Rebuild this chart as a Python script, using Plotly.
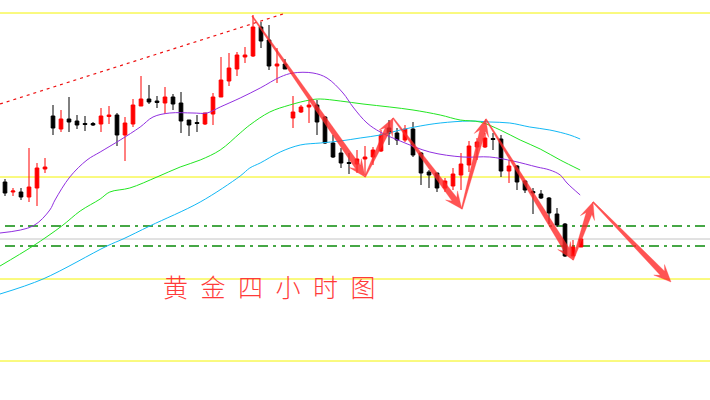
import math
import plotly.graph_objects as go

# ---- candle data (index, OHLC) ----
opens  = [1818,1808,1808,1803,1812,1831,1884,1871,1881,1879,1876.5,1876.5,1876,1883.5,1885,1865,1876,1894,1901,1899,
          1897,1903,1897,1880,1877.5,1876,1886,1903,1919,1931,1943,1944,1973,1960,1934,1936,1882,1888,1893,1895,
          1883,1857,1847,1837.5,1836,1841,1843,1849,1872,1867,1860,1871,1847,1828,1827,1812,1814,1825,1835,1853,
          1853,1861.5,1861,1829,1834,1819,1808.5,1806,1802,1786,1776,1744,1753]
highs  = [1821,1812,1812,1852,1837,1842,1895,1890,1903,1885,1884,1878,1892,1894,1887,1883,1901,1924,1915,1904,
          1913,1906,1908,1880,1885,1887,1907,1943,1947,1948,1953,1985,1978,1975,1952,1941,1904,1895,1900,1900,
          1884,1865,1852,1847,1850,1854,1853,1870,1880,1872,1875,1878,1848,1830,1827,1822,1832,1847,1859,1862,
          1867,1867,1865,1840,1835,1820,1812,1810,1803,1792,1777,1760,1761]
lows   = [1804,1804,1800,1798,1794,1827,1865,1868,1868,1871,1869,1874,1868,1876,1854,1839,1873,1894,1896,1892,
          1886,1890,1867,1864,1868,1875,1875,1903,1914,1924,1937,1943,1952,1930,1917,1931,1872,1887,1877,1865,
          1856,1842,1832,1826,1827,1825,1835,1848,1855,1855,1858,1843,1815,1812,1808,1808,1810,1810,1828,1840,
          1852,1850,1823,1817,1810,1807,1786,1801,1776,1773,1743,1742,1753]
closes = [1807,1809,1803,1813,1832,1833,1872,1881,1878,1875,1875.5,1875,1884,1885,1865,1877,1895,1901,1898,1897.5,
          1903,1896,1879,1875,1876.5,1887,1903,1920,1932,1945,1945,1973,1959,1934,1936,1931,1888,1893,1895,1878,
          1857,1843,1837,1836.5,1841,1843,1850,1865,1867,1860,1871,1845,1827,1825,1812,1819,1826,1836,1854,1858,
          1862,1860.5,1829,1834,1818,1810,1807,1802,1787,1775,1744,1753,1761]
bar_index = list(range(len(opens)))

# ---- moving averages (index, price) ----
ma_purple_x = [-0.625,3.5,5.6,6.25,8.1,10.25,11.9,14.4,16.9,18.5,20.6,23.5,25.25,26.9,29.4,31.9,34.4,36,38.5,40.25,
               42.25,43.5,45.25,46.9,49.4,53.1,57.25,60.6,63.5,66.5,68.1,69.4,70.25,71.9]
ma_purple_y = [1767,1774,1790,1800,1823,1840,1848,1860,1873,1883,1887,1887,1887,1893,1902,1912,1923,1927,1927,1922,
               1907,1893,1877,1868,1859,1848,1843,1843,1839,1833,1830,1825,1817,1805]
ma_green_x = [-0.625,3.5,7.1,9.4,11.9,13.1,15.6,19,21.9,24.4,26.9,29.4,30.6,33.1,35.6,38.1,39.4,41.9,44.75,48.1,
              51,54.4,56.9,59.4,61.9,64.4,66.9,69.4,71.9]
ma_green_y = [1734,1754,1774,1789,1801,1808,1812,1823,1833,1840,1850,1867,1875,1888,1895,1900,1901,1899,1896,1893,
              1890,1885,1880,1878,1870,1860,1851,1840,1830]
ma_cyan_x = [-0.625,4.75,12.75,14.75,18.1,24.4,29.4,30.6,31.9,34.4,36.9,39.4,41.9,44.4,46.9,49.4,51.9,54.4,58.1,
             60.6,63.1,65.6,68.1,70.6,71.9]
ma_cyan_y = [1706,1721,1754,1761,1774,1798,1824,1832,1837,1848,1855,1857,1859,1862,1865,1870,1874,1877,1879,
             1878,1877,1873,1870,1865,1861]

# ---- reference lines ----
yellow_levels = [1987, 1823, 1721, 1639]
grey_levels = [1761]
green_levels = [1774, 1754]
trend_x = [-0.625, 34.75]
trend_y = [1896, 1986]

# ---- forecast path (arrows) ----
path_x = [30.9, 45.0, 48.5, 57.1, 60.1, 71.0, 73.5, 83.25]
path_y = [1984, 1823, 1882, 1791, 1881, 1740, 1798, 1718]

title_text = "黄\u2002金\u2002四\u2002小\u2002时\u2002图"

X_RANGE = [-0.625, 88.125]
Y_RANGE = [1600, 2000]
W, H = 710, 400
SX = W / (X_RANGE[1] - X_RANGE[0])   # px per x unit
SY = H / (Y_RANGE[1] - Y_RANGE[0])   # px per y unit


def tapered_arrow(x0, y0, x1, y1, w0=0.6, w1=3.0, head_len=17, head_w=7.5, notch=0.72):
    """Polygon (data coords) of an arrow that widens towards its head."""
    ux0, uy0, ux1, uy1 = x0 * SX, y0 * SY, x1 * SX, y1 * SY
    dx, dy = ux1 - ux0, uy1 - uy0
    L = math.hypot(dx, dy)
    dx, dy = dx / L, dy / L
    nx, ny = -dy, dx
    pts = [
        (ux0 + nx * w0, uy0 + ny * w0),
        (ux1 - dx * head_len * notch + nx * w1, uy1 - dy * head_len * notch + ny * w1),
        (ux1 - dx * head_len + nx * head_w, uy1 - dy * head_len + ny * head_w),
        (ux1, uy1),
        (ux1 - dx * head_len - nx * head_w, uy1 - dy * head_len - ny * head_w),
        (ux1 - dx * head_len * notch - nx * w1, uy1 - dy * head_len * notch - ny * w1),
        (ux0 - nx * w0, uy0 - ny * w0),
        (ux0 + nx * w0, uy0 + ny * w0),
    ]
    return [p[0] / SX for p in pts], [p[1] / SY for p in pts]


fig = go.Figure()

fig.add_trace(go.Scatter(x=ma_cyan_x, y=ma_cyan_y, mode="lines",
                         line=dict(color="#12b8f5", width=1, shape="spline"), hoverinfo="skip"))
fig.add_trace(go.Scatter(x=ma_green_x, y=ma_green_y, mode="lines",
                         line=dict(color="#22e622", width=1, shape="spline"), hoverinfo="skip"))
fig.add_trace(go.Scatter(x=ma_purple_x, y=ma_purple_y, mode="lines",
                         line=dict(color="#9130e0", width=1, shape="spline"), hoverinfo="skip"))
fig.add_trace(go.Scatter(x=trend_x, y=trend_y, mode="lines",
                         line=dict(color="#ee1111", width=1.2, dash="3px,4px"), hoverinfo="skip"))

fig.add_trace(go.Candlestick(
    x=bar_index, open=opens, high=highs, low=lows, close=closes,
    increasing=dict(line=dict(color="#ff0000", width=1), fillcolor="#ff0000"),
    decreasing=dict(line=dict(color="#000000", width=1), fillcolor="#000000"),
    whiskerwidth=0, hoverinfo="skip"))

for i in range(len(path_x) - 1):
    ax_, ay_ = tapered_arrow(path_x[i], path_y[i], path_x[i + 1], path_y[i + 1])
    fig.add_trace(go.Scatter(x=ax_, y=ay_, mode="lines", fill="toself",
                             fillcolor="rgba(255,40,40,0.8)",
                             line=dict(color="rgba(255,60,60,0.5)", width=0.6), hoverinfo="skip"))

shapes = []
for lv in yellow_levels:
    shapes.append(dict(type="line", xref="paper", x0=0, x1=1, y0=lv, y1=lv,
                       line=dict(color="#f4f400", width=1), layer="below"))
for lv in grey_levels:
    shapes.append(dict(type="line", xref="paper", x0=0, x1=1, y0=lv, y1=lv,
                       line=dict(color="#c4c4c4", width=1), layer="below"))
for lv in green_levels:
    shapes.append(dict(type="line", x0=0, x1=88.2, y0=lv, y1=lv,
                       line=dict(color="#0a8a0a", width=1.6, dash="10px,5px,3px,5px"), layer="below"))

annotations = [dict(x=0.379, y=0.285, xref="paper", yref="paper", text=title_text, showarrow=False,
                    font=dict(family="Noto Sans CJK SC", size=25, color="#ff3a3a", weight=300),
                    xanchor="center", yanchor="middle")]

fig.update_layout(
    width=W, height=H, margin=dict(l=0, r=0, t=0, b=0),
    paper_bgcolor="white", plot_bgcolor="white", showlegend=False,
    xaxis=dict(range=X_RANGE, visible=False, rangeslider=dict(visible=False), fixedrange=True),
    yaxis=dict(range=Y_RANGE, visible=False, fixedrange=True),
    shapes=shapes, annotations=annotations, boxgap=0.35,
)

fig.write_html("out.html", config={"displayModeBar": False},
               post_script="document.body.style.margin='0';document.body.style.overflow='hidden';")
